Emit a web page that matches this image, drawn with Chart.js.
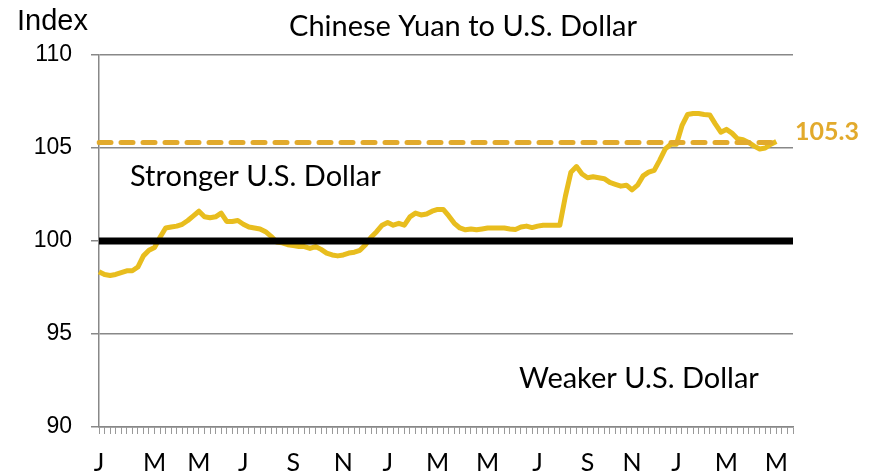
<!DOCTYPE html>
<html><head><meta charset="utf-8">
<script src="https://cdn.jsdelivr.net/npm/chart.js@4"></script>
<style>html,body{margin:0;padding:0;background:#fff;} canvas{display:block;}</style>
</head><body>
<canvas id="c" width="879" height="476"></canvas>
<script>
// Weekly tick labels (first week of every other month), Jan 2014 – May 2016
const weekLabels = [
 'J','','','','','','','','','','M','','','','','','','','M','','','','','','','','J','','','','','','','','','S',
 '','','','','','','','','N','','','','','','','','J','','','','','','','','','M','','','','','','','','','M',
 '','','','','','','','','J','','','','','','','','','S','','','','','','','','N','','','','','','','','J',
 '','','','','','','','','M','','','','','','','','','M','','',''
];
// Index of Chinese yuan per U.S. dollar, weekly
const yuanIndex = [
 98.35, 98.2, 98.15, 98.2, 98.3, 98.4, 98.4, 98.6, 99.2, 99.5,
 99.65, 100.2, 100.7, 100.75, 100.8, 100.9, 101.1, 101.35, 101.6, 101.3,
 101.25, 101.3, 101.5, 101.05, 101.05, 101.1, 100.9, 100.75, 100.7, 100.65,
 100.5, 100.25, 99.95, 99.9, 99.8, 99.75, 99.7, 99.7, 99.6, 99.7,
 99.55, 99.35, 99.25, 99.2, 99.25, 99.35, 99.4, 99.5, 99.8, 100.2,
 100.5, 100.85, 101.0, 100.85, 100.95, 100.85, 101.3, 101.5, 101.4, 101.45,
 101.6, 101.7, 101.7, 101.35, 100.95, 100.7, 100.6, 100.65, 100.6, 100.65,
 100.7, 100.7, 100.7, 100.7, 100.65, 100.62, 100.75, 100.8, 100.72, 100.8,
 100.85, 100.85, 100.85, 100.85, 102.4, 103.7, 104.0, 103.6, 103.4, 103.45,
 103.4, 103.35, 103.15, 103.05, 102.95, 103.0, 102.75, 103.0, 103.5, 103.7,
 103.8, 104.35, 104.95, 105.2, 105.2, 106.2, 106.8, 106.85, 106.85, 106.8,
 106.78, 106.3, 105.85, 106.0, 105.8, 105.5, 105.45, 105.3, 105.1, 104.95,
 105.0, 105.2, 105.35
];
const latestValue = 105.3;
const parityValue = 100;
const yTicks = [90, 95, 100, 105, 110];
const titleText = 'Chinese Yuan to U.S. Dollar';
const yAxisTitle = 'Index';
const strongerText = 'Stronger U.S. Dollar';
const weakerText = 'Weaker U.S. Dollar';

const textPlugin = {
  id: 'texts',
  afterDraw(chart) {
    const c = chart.ctx;
    const ys = chart.scales.y;
    c.save();
    c.fillStyle = '#000';
    c.textBaseline = 'middle';
    c.font = '29px Lato';
    c.textAlign = 'center';
    c.fillText(titleText, 463, 27);
    c.textAlign = 'left';
    c.font = '29px "Liberation Sans"';
    c.fillText(yAxisTitle, 17, 22);
    c.font = '29px Lato';
    c.fillText(strongerText, 130, 177);
    c.fillText(weakerText, 519, 379);
    c.font = 'bold 25px Lato';
    c.fillStyle = '#E2AA2C';
    c.fillText(latestValue.toFixed(1), 795, ys.getPixelForValue(latestValue) - 10);
    c.restore();
  }
};

new Chart(document.getElementById('c'), {
  type: 'line',
  data: {
    labels: weekLabels,
    datasets: [
      {data: yuanIndex, borderColor: '#E8BD1E', borderWidth: 5, order: 2, borderJoinStyle: 'round'},
      {data: yuanIndex.map(() => latestValue), borderColor: '#E2AA2C', borderWidth: 5, borderDash: [12, 10], borderCapStyle: 'round', order: 1},
      {data: weekLabels.map(() => parityValue), borderColor: '#000', borderWidth: 7, order: 0}
    ]
  },
  options: {
    responsive: false,
    animation: false,
    layout: {padding: {left: 0, right: 86, top: 55, bottom: 0}},
    elements: {point: {radius: 0}, line: {tension: 0}},
    plugins: {legend: {display: false}, tooltip: {enabled: false}, title: {display: false}},
    scales: {
      x: {
        type: 'category', offset: false,
        grid: {drawOnChartArea: false, drawTicks: true, tickLength: 7, color: '#999', lineWidth: 1},
        border: {display: true, color: '#888', width: 1.5},
        ticks: {autoSkip: false, maxRotation: 0, minRotation: 0, padding: 14, color: '#000', font: {family: 'Lato', size: 25}},
        afterFit(s) { s.height = 49; }
      },
      y: {
        min: 90, max: 110,
        afterBuildTicks(s) { s.ticks = yTicks.map(v => ({value: v})); },
        grid: {color: '#888', lineWidth: 1.5, tickLength: 8},
        border: {display: true, color: '#888', width: 1.5},
        ticks: {padding: 19, color: '#000', font: {family: 'Liberation Sans', size: 23}},
        afterFit(s) { s.width = 99; }
      }
    }
  },
  plugins: [textPlugin]
});
</script>
</body></html>
